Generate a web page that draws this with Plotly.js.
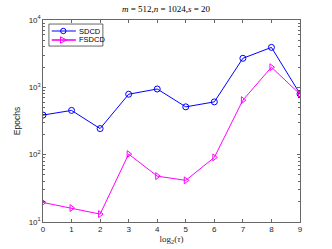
<!DOCTYPE html>
<html>
<head>
<meta charset="utf-8">
<script src="https://cdn.plot.ly/plotly-3.0.1.min.js"></script>
<style>html,body{margin:0;padding:0;background:#fff;}#plot{width:332px;height:249px;}</style>
</head>
<body>
<div id="plot"></div>
<script>
const tau = [0, 1, 2, 3, 4, 5, 6, 7, 8, 9];
const sdcd = [387, 454, 244, 790, 945, 513, 608, 2700, 3920, 800];
const fsdcd = [19.5, 16.1, 13.1, 102, 48, 41.5, 91, 645, 1990, 790];
const seriesNames = ['SDCD', 'FSDCD'];
const seriesColors = ['#0000ff', '#ff00ff'];
const yTickVals = [10, 100, 1000, 10000];
const yTickText = ['10<sup>1</sup>', '10<sup>2</sup>', '10<sup>3</sup>', '10<sup>4</sup>'];
const minorVals = [];
for (let e = 1; e < 4; e++) for (let k = 2; k <= 9; k++) minorVals.push(k * Math.pow(10, e));

const axisColor = '#262626';
const traces = [
  {x: tau, y: sdcd, name: seriesNames[0], type: 'scatter', mode: 'lines+markers', showlegend: false,
   line: {color: seriesColors[0], width: 1},
   marker: {symbol: 'circle-open', size: 6, color: seriesColors[0], line: {width: 1, color: seriesColors[0]}}},
  {x: tau, y: fsdcd, name: seriesNames[1], type: 'scatter', mode: 'lines+markers', showlegend: false,
   line: {color: seriesColors[1], width: 1},
   marker: {symbol: 'triangle-right-open', size: 6, color: seriesColors[1], line: {width: 1, color: seriesColors[1]}}}
];

// compact MATLAB-like legend drawn as layout decoration
const legX0 = 0.023, legX1 = 0.233, legY0 = 0.871, legY1 = 0.980;
const rowY = [0.9455, 0.901];
const lineX0 = 0.034, lineX1 = 0.128, markX = 0.079, textX = 0.134;
const shapes = [
  {type: 'rect', xref: 'paper', yref: 'paper', x0: legX0, x1: legX1, y0: legY0, y1: legY1,
   line: {color: axisColor, width: 0.7}, fillcolor: '#fff', layer: 'above'}
];
const annotations = [];
seriesNames.forEach((nm, i) => {
  shapes.push({type: 'line', xref: 'paper', yref: 'paper', x0: lineX0, x1: lineX1, y0: rowY[i], y1: rowY[i],
               line: {color: seriesColors[i], width: i === 1 ? 1.6 : 1}, layer: 'above'});
  if (i === 0) {
    shapes.push({type: 'circle', xref: 'paper', yref: 'paper', xsizemode: 'pixel', ysizemode: 'pixel',
                 xanchor: markX, yanchor: rowY[i], x0: -2.7, x1: 2.7, y0: -2.7, y1: 2.7,
                 line: {color: seriesColors[i], width: 1}, fillcolor: 'rgba(0,0,0,0)', layer: 'above'});
  } else {
    shapes.push({type: 'path', xref: 'paper', yref: 'paper', xsizemode: 'pixel', ysizemode: 'pixel',
                 xanchor: markX, yanchor: rowY[i], path: 'M-2.8,-3.2 L3.2,0 L-2.8,3.2 Z',
                 line: {color: seriesColors[i], width: 1}, fillcolor: 'rgba(0,0,0,0)', layer: 'above'});
  }
  annotations.push({xref: 'paper', yref: 'paper', x: textX, y: rowY[i], xanchor: 'left', yanchor: 'middle',
                    text: nm, showarrow: false, font: {size: 7.5, color: '#000'}});
});

const layout = {
  width: 332, height: 249,
  margin: {l: 43, r: 32, t: 20, b: 27},
  paper_bgcolor: '#fff', plot_bgcolor: '#fff',
  font: {family: 'Liberation Sans, Arial, sans-serif', size: 8, color: axisColor},
  title: {text: '<i>m</i> = 512,<i>n</i> = 1024,<i>s</i> = 20', font: {family: 'Liberation Serif, Times New Roman, serif', size: 9, color: '#000'}, x: 0.5, xanchor: 'center', y: 0.965, yanchor: 'middle'},
  showlegend: false,
  shapes: shapes,
  annotations: annotations,
  xaxis: {range: [0, 9], tickvals: tau, ticks: 'inside', ticklen: 3, tickwidth: 0.7, tickcolor: axisColor,
          showline: true, linecolor: axisColor, linewidth: 0.7, mirror: 'ticks', showgrid: false, zeroline: false,
          tickfont: {size: 8, color: axisColor},
          title: {text: 'log<sub>2</sub>(<i>τ</i>)', font: {family: 'Liberation Serif, Times New Roman, serif', size: 9, color: axisColor}, standoff: 2}},
  yaxis: {type: 'log', range: [1, 4], tickvals: yTickVals, ticktext: yTickText, ticks: 'inside', ticklen: 3, tickwidth: 0.7, tickcolor: axisColor,
          showline: true, linecolor: axisColor, linewidth: 0.7, mirror: 'ticks', showgrid: false, zeroline: false,
          tickfont: {size: 8, color: axisColor},
          minor: {tickvals: minorVals, ticks: 'inside', ticklen: 2, tickwidth: 0.7, tickcolor: axisColor, showgrid: false},
          title: {text: 'Epochs', font: {size: 8.5, color: axisColor}, standoff: 6}}
};
Plotly.newPlot('plot', traces, layout, {displayModeBar: false, staticPlot: true});
</script>
</body>
</html>
